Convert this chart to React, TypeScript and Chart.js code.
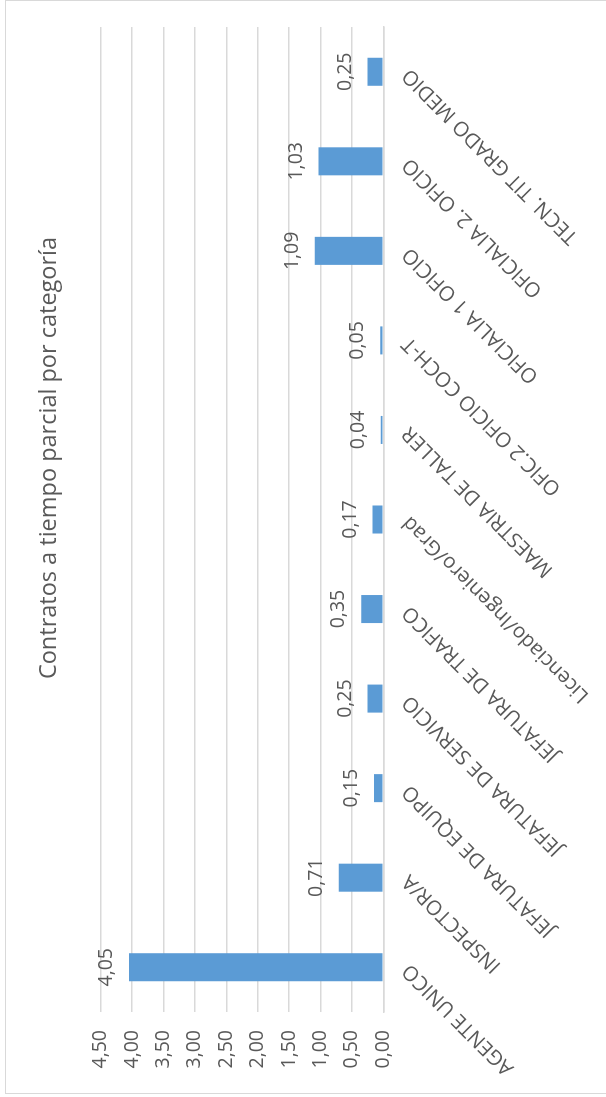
import React, { useEffect, useRef } from "react";
import { Chart, registerables } from "chart.js";

Chart.register(...registerables);

const categories = [
  "AGENTE UNICO",
  "INSPECTOR/A",
  "JEFATURA DE EQUIPO",
  "JEFATURA DE SERVICIO",
  "JEFATURA DE TRAFICO",
  "Licenciado/Ingeniero/Grad",
  "MAESTRIA DE TALLER",
  "OFIC.2 OFICIO COCH-T",
  "OFICIALIA 1 OFICIO",
  "OFICIALIA 2. OFICIO",
  "TECN. TIT GRADO MEDIO",
];
const values = [4.05, 0.71, 0.15, 0.25, 0.35, 0.17, 0.04, 0.05, 1.09, 1.03, 0.25];
const yMin = 0;
const yMax = 4.5;
const yStep = 0.5;
const title = "Contratos a tiempo parcial por categoría";

const fmt = (v: number) => Number(v).toFixed(2).replace(".", ",");

const FONT = "'Open Sans', sans-serif";
const GREY = "#595959";
const GRID = "#d9d9d9";
const BAR = "#5B9BD5";

// unrotated chart frame
const W = 1094;
const H = 601;

export default function App() {
  const ref = useRef<HTMLCanvasElement | null>(null);

  useEffect(() => {
    document.documentElement.style.overflow = "hidden";
    document.body.style.overflow = "hidden";
    const canvas = ref.current;
    if (!canvas) return;

    const valueLabels = {
      id: "valueLabels",
      afterDatasetsDraw(chart: any) {
        const ctx = chart.ctx;
        const meta = chart.getDatasetMeta(0);
        ctx.save();
        ctx.font = `19.5px ${FONT}`;
        ctx.fillStyle = GREY;
        ctx.textAlign = "center";
        ctx.textBaseline = "alphabetic";
        meta.data.forEach((el: any, i: number) => {
          ctx.fillText(fmt(values[i]), el.x, el.y - 17);
        });
        ctx.restore();
      },
    };

    const titlePlugin = {
      id: "customTitle",
      afterDraw(chart: any) {
        const ctx = chart.ctx;
        ctx.save();
        ctx.font = `23.5px ${FONT}`;
        ctx.fillStyle = GREY;
        ctx.textAlign = "center";
        ctx.textBaseline = "middle";
        ctx.fillText(title, 635, 43);
        ctx.restore();
      },
    };

    const chart = new Chart(canvas, {
      type: "bar",
      data: {
        labels: categories,
        datasets: [
          {
            data: values,
            backgroundColor: BAR,
            borderWidth: 0,
            barPercentage: 0.313,
            categoryPercentage: 1,
          },
        ],
      },
      options: {
        animation: false,
        responsive: false,
        devicePixelRatio: 1,
        layout: { padding: { top: 94.7, right: 26, left: 0, bottom: 0 } },
        plugins: {
          legend: { display: false },
          tooltip: { enabled: false },
          title: { display: false },
        },
        scales: {
          x: {
            grid: { display: false, drawTicks: false },
            border: { display: true, color: GRID, width: 1.5 },
            ticks: {
              autoSkip: false,
              minRotation: 45,
              maxRotation: 45,
              padding: 14,
              color: GREY,
              font: { family: FONT, size: 20.5 },
            },
            afterFit(s: any) {
              s.height = 600 - 377.3;
            },
          },
          y: {
            min: yMin,
            max: yMax,
            grid: { color: GRID, lineWidth: 1.5, drawTicks: false },
            border: { display: false },
            ticks: {
              stepSize: yStep,
              padding: 18,
              color: GREY,
              font: { family: FONT, size: 19.5 },
              callback: (v: any) => fmt(v),
            },
            afterFit(s: any) {
              s.width = 81;
            },
          },
        },
      },
      plugins: [valueLabels, titlePlugin],
    } as any);

    return () => chart.destroy();
  }, []);

  return (
    <div
      style={{
        position: "absolute",
        left: 5,
        top: 0,
        width: W,
        height: H,
        boxSizing: "border-box",
        borderTop: `1px solid ${GRID}`,
        borderLeft: `1px solid ${GRID}`,
        borderRight: `1px solid ${GRID}`,
        background: "#fff",
        transformOrigin: "0 0",
        transform: `translateY(${W}px) rotate(-90deg)`,
      }}
    >
      <canvas ref={ref} width={W - 2} height={H - 1} style={{ display: "block" }} />
    </div>
  );
}
